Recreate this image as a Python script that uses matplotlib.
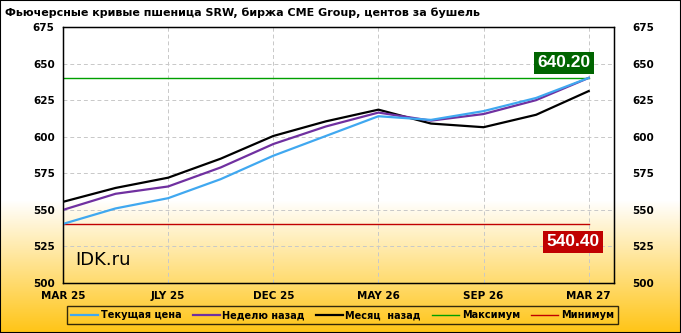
import numpy as np
import matplotlib
matplotlib.use("Agg")
import matplotlib.pyplot as plt
from matplotlib.patches import Rectangle

# Contract months (SRW wheat: Mar, May, Jul, Sep, Dec)
contracts = ["MAR 25", "MAY 25", "JLY 25", "SEP 25", "DEC 25", "MAR 26",
             "MAY 26", "JLY 26", "SEP 26", "DEC 26", "MAR 27"]

# Curves, cents per bushel
current = [540.4, 551, 558, 571, 587, 600.5, 614, 611.5, 617.5, 626.5, 640.2]
week_ago = [550, 561, 566, 579, 595, 607, 616.5, 611, 615.5, 625, 640.2]
month_ago = [555.5, 565, 572, 585, 600.5, 610.5, 618.5, 609, 606.5, 615, 631.2]

y_ticks = [500, 525, 550, 575, 600, 625, 650, 675]
series_labels = ["Текущая цена", "Неделю назад", "Месяц  назад", "Максимум", "Минимум"]
title = "Фьючерсные кривые пшеница SRW, биржа CME Group, центов за бушель"

x = np.arange(len(contracts))
max_val = max(current)
min_val = min(current)

fig = plt.figure(figsize=(6.81, 3.33), dpi=100)

# Background gradient: white at top, gold at the bottom
bg = fig.add_axes([0, 0, 1, 1], zorder=0)
h = 333
t = np.clip((np.arange(h) - 200) / (h - 200), 0, 1)[::-1]
top = np.array([1.0, 1.0, 1.0])
bottom = np.array([1.0, 0.77, 0.08])
grad = top[None, :] * (1 - t[:, None]) + bottom[None, :] * t[:, None]
bg.imshow(grad[:, None, :], aspect="auto", extent=[0, 1, 0, 1], origin="lower")
bg.set_axis_off()

ax = fig.add_axes([0.0925, 0.150, 0.809, 0.769], zorder=1)
ax.set_facecolor("none")

ax.plot(x, current, color="#40A8F0", lw=1.6, label=series_labels[0], zorder=4)
ax.plot(x, week_ago, color="#7030A0", lw=1.6, label=series_labels[1], zorder=3)
ax.plot(x, month_ago, color="black", lw=1.6, label=series_labels[2], zorder=2)
ax.plot([x[0], x[-1]], [max_val, max_val], color="#00A000", lw=1.0, label=series_labels[3])
ax.plot([x[0], x[-1]], [min_val, min_val], color="#C00000", lw=1.0, label=series_labels[4])

ax.set_xlim(0, 10.48)
ax.set_ylim(500, 675)
ax.set_yticks(y_ticks)
ax.set_xticks(x[::2])
ax.set_xticklabels(contracts[::2])
ax.grid(True, color="#C8C8C8", linestyle=(0, (4, 3)), lw=0.7)
ax.tick_params(length=0, labelsize=7.5, pad=6)
for lbl in ax.get_xticklabels() + ax.get_yticklabels():
    lbl.set_fontweight("bold")
for s in ax.spines.values():
    s.set_linewidth(1.0)

ax2 = ax.twinx()
ax2.set_ylim(500, 675)
ax2.set_yticks(y_ticks)
ax2.tick_params(length=0, labelsize=7.5, pad=13)
for lbl in ax2.get_yticklabels():
    lbl.set_fontweight("bold")

# Value labels for max and min
ax.annotate(f"{max_val:.2f}", xy=(x[-1], max_val), xytext=(-18, 11),
            textcoords="offset points", ha="center", va="center",
            color="white", fontsize=12.5, fontweight="bold", family="Liberation Sans",
            bbox=dict(boxstyle="square,pad=0.2", fc="#006400", ec="none"), zorder=6)
ax.annotate(f"{min_val:.2f}", xy=(x[-1], min_val), xytext=(-11, -13),
            textcoords="offset points", ha="center", va="center",
            color="white", fontsize=12.5, fontweight="bold", family="Liberation Sans",
            bbox=dict(boxstyle="square,pad=0.2", fc="#C00000", ec="none"), zorder=6)

ax.text(0.022, 0.07, "IDK.ru", transform=ax.transAxes, fontsize=13, color="black")

fig.text(0.008, 0.962, title, fontsize=8, fontweight="bold", ha="left", va="center")

leg = fig.legend(loc="center", bbox_to_anchor=(0.503, 0.053), ncol=5,
                 frameon=True, fontsize=7, handlelength=2.8, handletextpad=0.25,
                 columnspacing=1.15, borderpad=0.4, fancybox=False)
leg.get_frame().set_edgecolor("black")
leg.get_frame().set_facecolor("none")
leg.get_frame().set_linewidth(1.0)
for txt in leg.get_texts():
    txt.set_fontweight("bold")

fig.patches.append(Rectangle((0, 0), 1, 1, transform=fig.transFigure, fill=False,
                             edgecolor="black", lw=1.5, zorder=10))

fig.savefig("out.png", dpi=100)
